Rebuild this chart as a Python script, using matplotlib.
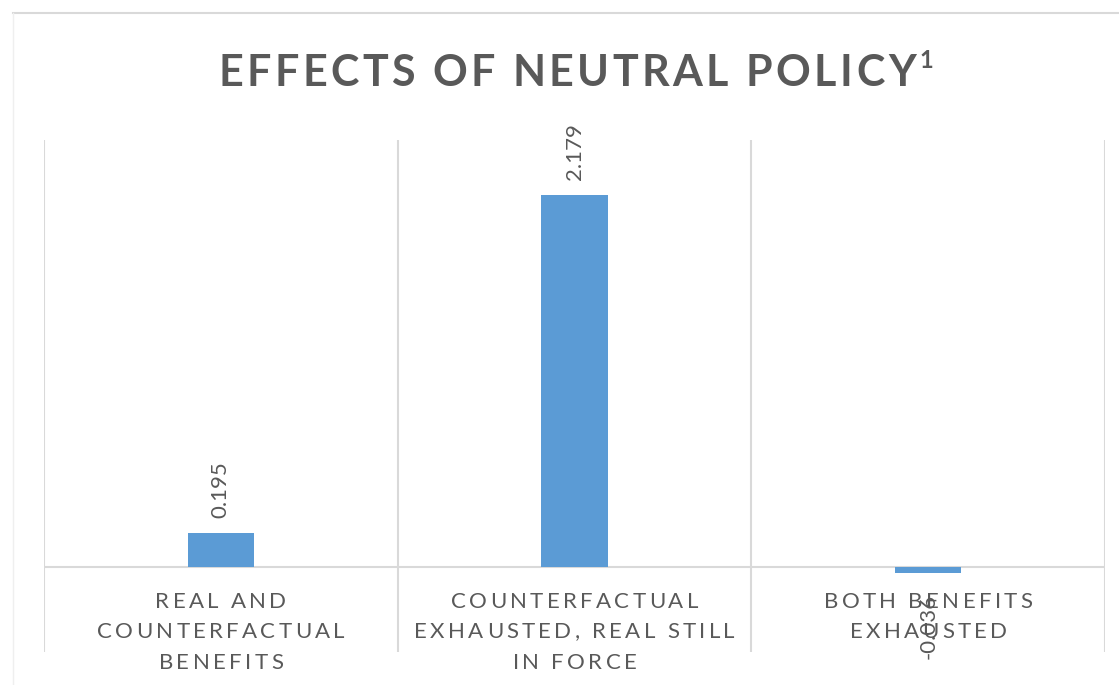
import matplotlib
matplotlib.use("Agg")
import matplotlib.pyplot as plt
from matplotlib import font_manager
from matplotlib.font_manager import FontProperties
from matplotlib.lines import Line2D

# ---- data ----
category_lines = [
    ["REAL AND", "COUNTERFACTUAL", "BENEFITS"],
    ["COUNTERFACTUAL", "EXHAUSTED, REAL STILL", "IN FORCE"],
    ["BOTH BENEFITS", "EXHAUSTED"],
]
values = [0.195, 2.179, -0.036]
title_text = "EFFECTS OF NEUTRAL POLICY"
title_note = "1"

# ---- style ----
W, H, DPI = 1119, 685, 100
BAR_COLOR = "#5B9BD5"
TEXT_COLOR = "#595959"
GRID_COLOR = "#D9D9D9"
FAMILY = "Lato"

fig = plt.figure(figsize=(W / DPI, H / DPI), dpi=DPI)
fig.patch.set_facecolor("white")

# plot area in pixels: x 44..1105, y 140..652
left, right, top, bottom = 44, 1105, 140, 652
ax = fig.add_axes([left / W, 1 - bottom / H, (right - left) / W, (bottom - top) / H])
ax.set_facecolor("none")

x = list(range(len(values)))
ax.bar(x, values, width=0.187, color=BAR_COLOR, zorder=3)
ax.set_xlim(-0.5, len(values) - 0.5)
ax.set_ylim(-0.5, 2.5)

for s in ax.spines.values():
    s.set_visible(False)
ax.set_xticks([])
ax.set_yticks([])

# category separators and the zero line
for b in [i - 0.5 for i in range(len(values) + 1)]:
    ax.axvline(b, color=GRID_COLOR, lw=1.5, zorder=1)
ax.axhline(0, color=GRID_COLOR, lw=1.5, zorder=2)

# rotated value labels
for xi, v in zip(x, values):
    off = 11 if v >= 0 else -15
    ax.annotate(f"{v:.3f}", (xi, v), xytext=(0, off), textcoords="offset points",
                rotation=90, ha="center", va="bottom" if v >= 0 else "top",
                fontsize=16, color=TEXT_COLOR, family=FAMILY, zorder=5)


def advances(s, size, weight):
    prop = FontProperties(family=FAMILY, weight=weight, size=size)
    font = font_manager.get_font(font_manager.findfont(prop))
    font.set_size(size, DPI)
    return [font.load_char(ord(c)).linearHoriAdvance / 65536 for c in s]


def spaced_text(s, cx, baseline, size, tracking, weight="normal", color=TEXT_COLOR):
    """Draw letter-spaced text centred at pixel cx with its baseline at pixel y."""
    adv = advances(s, size, weight)
    total = sum(adv) + tracking * (len(s) - 1)
    pos = cx - total / 2
    for c, a in zip(s, adv):
        if c != " ":
            fig.text((pos + a / 2) / W, 1 - baseline / H, c, ha="center", va="baseline",
                     fontsize=size, fontweight=weight, color=color, family=FAMILY)
        pos += a + tracking
    return cx + total / 2


# title with superscript note
title_end = spaced_text(title_text, 567, 86, 31, 3.45, weight="bold")
fig.text((title_end + 4) / W, 1 - 68 / H, title_note, ha="left", va="baseline",
         fontsize=17, fontweight="bold", color=TEXT_COLOR, family=FAMILY)

# category labels
cat_width = (right - left) / len(values)
baselines = [608, 638.5, 669]
for i, lines in enumerate(category_lines):
    cx = left + cat_width * (i + 0.5)
    for line, yb in zip(lines, baselines):
        spaced_text(line, cx, yb, 16, 3.3)

# chart frame
fig.add_artist(Line2D([13 / W, 1], [1 - 13 / H, 1 - 13 / H], color=GRID_COLOR, lw=1.5,
                      transform=fig.transFigure))
fig.add_artist(Line2D([13 / W, 13 / W], [0, 1 - 13 / H], color="#EFEFEF", lw=1.0,
                      transform=fig.transFigure))

fig.savefig("out.png", dpi=DPI, facecolor="white")
